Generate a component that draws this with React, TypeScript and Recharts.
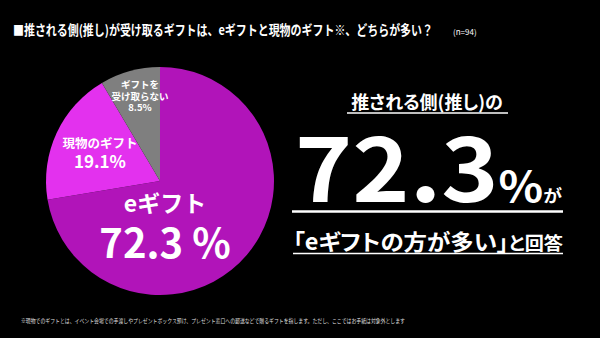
import React from 'react';
import { PieChart, Pie, Cell } from 'recharts';

// Survey results (n=94)
const CATEGORIES = ['eギフト', '現物のギフト', 'ギフトを受け取らない'];
const SHARES = [72.3, 19.1, 8.5];
const COLORS = ['#b114b9', '#e331ee', '#7f7f7f'];

const TITLE = '■推される側(推し)が受け取るギフトは、eギフトと現物のギフト※、どちらが多い？';
const SAMPLE = '(n=94)';
const NOTE =
  '※現物でのギフトとは、イベント会場での手渡しやプレゼントボックス預け、プレゼント窓口への郵送などで贈るギフトを指します。ただし、ここではお手紙は対象外とします';

const data = CATEGORIES.map((name, i) => ({ name, value: SHARES[i] }));

const FONT = '"Noto Sans CJK JP", "Noto Sans", sans-serif';
const PALT = { fontFeatureSettings: '"palt"' };

// label block placement relative to the pie centre
const renderLabel = (props: any) => {
  const { cx, cy, index, name, value } = props;
  const common = { fill: '#fff', fontFamily: FONT, fontWeight: 700, textAnchor: 'middle' as const };
  if (index === 0) {
    const x = cx + 5;
    return (
      <text {...common}>
        <tspan x={x} y={cy + 31} fontSize={23}>{name}</tspan>
        <tspan x={x} y={cy + 77} fontSize={40}>{`${value} %`}</tspan>
      </text>
    );
  }
  if (index === 1) {
    const x = cx - 60;
    return (
      <text {...common}>
        <tspan x={x} y={cy - 33} fontSize={12.5}>{name}</tspan>
        <tspan x={x} y={cy - 13} fontSize={17}>{`${value}%`}</tspan>
      </text>
    );
  }
  const x = cx - 20;
  return (
    <text fontSize={9.5} {...common}>
      <tspan x={x} y={cy - 93}>{name.slice(0, 4)}</tspan>
      <tspan x={x} y={cy - 81}>{name.slice(4)}</tspan>
      <tspan x={x} y={cy - 70}>{`${value}%`}</tspan>
    </text>
  );
};

const App = () => {
  return (
    <div style={{ position: 'fixed', left: 0, top: 0, width: 600, height: 338, background: '#000' }}>
      <PieChart width={600} height={338}>
        <text y={35} fill="#fff" fontFamily={FONT}>
          <tspan x={13} fontWeight={700} fontSize={13.5} textLength={420} lengthAdjust="spacingAndGlyphs">
            {TITLE}
          </tspan>
          <tspan x={453} fontSize={8}>{SAMPLE}</tspan>
        </text>

        <Pie
          data={data}
          dataKey="value"
          nameKey="name"
          cx={155}
          cy={176}
          outerRadius={114}
          startAngle={90}
          endAngle={-270}
          stroke="none"
          label={renderLabel}
          labelLine={false}
          isAnimationActive={false}
        >
          {data.map((entry, index) => (
            <Cell key={`cell-${index}`} fill={COLORS[index % COLORS.length]} />
          ))}
        </Pie>

        {/* headline on the right */}
        <text x={427} y={109} fill="#fff" fontFamily={FONT} fontWeight={700} fontSize={18} textAnchor="middle" style={PALT}>
          推される側(推し)の
        </text>
        <line x1={347} x2={508} y1={113} y2={113} stroke="#fff" strokeWidth={1.5} />
        <text x={295} y={202} fill="#fff" fontFamily={FONT} fontWeight={700} textLength={267} lengthAdjust="spacingAndGlyphs">
          <tspan fontSize={88}>{SHARES[0]}</tspan>
          <tspan fontSize={42}>%</tspan>
          <tspan fontSize={17}>が</tspan>
        </text>
        <line x1={292} x2={563} y1={211.5} y2={211.5} stroke="#fff" strokeWidth={2.5} />
        <text x={293} y={250} fill="#fff" fontFamily={FONT} fontWeight={700} textLength={270} lengthAdjust="spacingAndGlyphs" style={PALT}>
          <tspan fontSize={22}>「eギフトの方が多い」</tspan>
          <tspan fontSize={18}>と回答</tspan>
        </text>
        <line x1={293} x2={563} y1={253.5} y2={253.5} stroke="#fff" strokeWidth={1.5} />

        <text x={21} y={323} fill="#ddd" fontFamily={FONT} fontSize={6} textLength={384} lengthAdjust="spacingAndGlyphs">
          {NOTE}
        </text>
      </PieChart>
    </div>
  );
};

export default App;
